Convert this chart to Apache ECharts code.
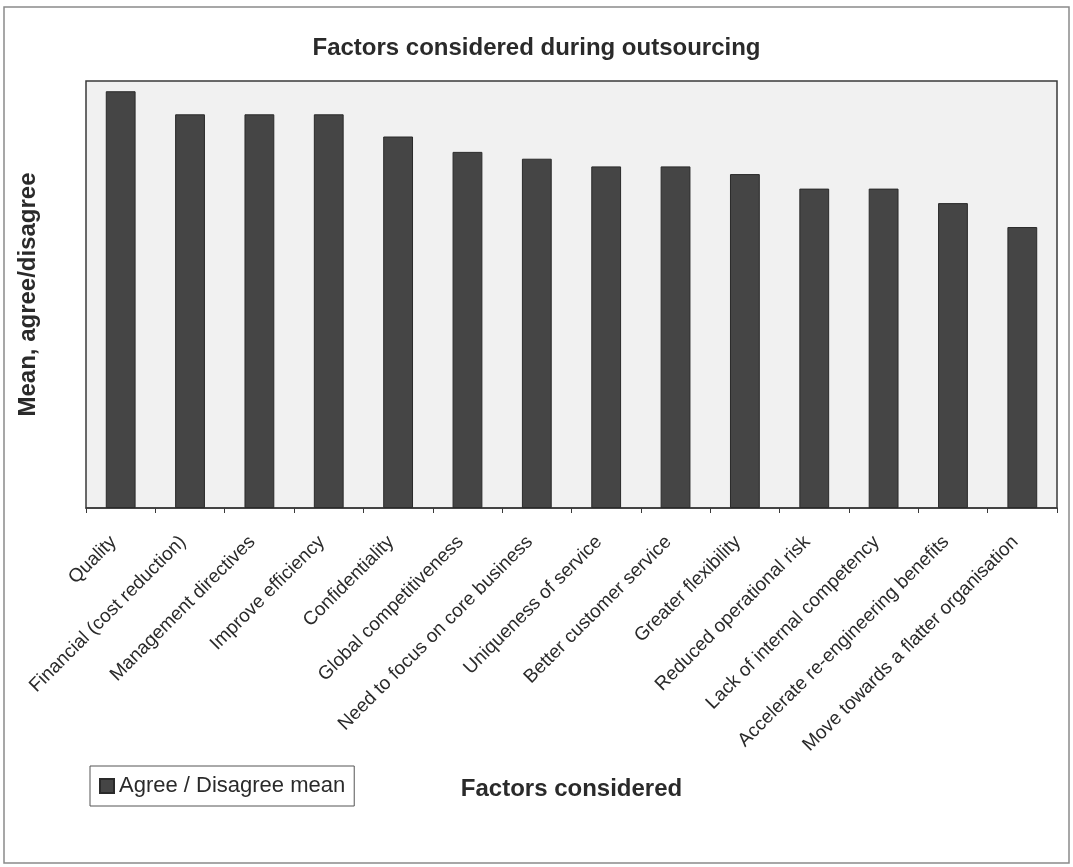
<!DOCTYPE html>
<html>
<head>
<meta charset="utf-8">
<script src="https://cdn.jsdelivr.net/npm/echarts@6/dist/echarts.min.js"></script>
<style>
  html, body { margin: 0; padding: 0; background: #fff; }
  #chart { width: 1073px; height: 867px; }
</style>
</head>
<body>
<div id="chart"></div>
<script>
const categories = [
  'Quality',
  'Financial (cost reduction)',
  'Management directives',
  'Improve efficiency',
  'Confidentiality',
  'Global competitiveness',
  'Need to focus on core business',
  'Uniqueness of service',
  'Better customer service',
  'Greater flexibility',
  'Reduced operational risk',
  'Lack of internal competency',
  'Accelerate re-engineering benefits',
  'Move towards a flatter organisation'
]
// (no y scale printed), assumed 0..5 range
const meanValues = [4.88, 4.61, 4.61, 4.61, 4.35, 4.17, 4.09, 4.00, 4.00, 3.91, 3.74, 3.74, 3.57, 3.29]

const chart = echarts.init(document.getElementById('chart'))
const font = '"Liberation Sans", Arial, sans-serif'

chart.setOption({
  animation: false,
  textStyle: { fontFamily: font },
  title: {
    text: 'Factors considered during outsourcing',
    left: 'center',
    top: 31,
    textStyle: { fontSize: 24, fontWeight: 'bold', color: '#2a2a2a', fontFamily: font }
  },
  graphic: [
    {
      type: 'rect',
      shape: { x: 4, y: 7, width: 1065, height: 856 },
      style: { fill: 'none', stroke: '#8a8a8a', lineWidth: 1.5 },
      z: -10
    }
  ],
  legend: {
    left: 90,
    top: 766,
    padding: [9, 9, 9, 9],
    borderColor: '#555',
    borderWidth: 1,
    icon: 'rect',
    itemWidth: 14,
    itemHeight: 14,
    itemGap: 6,
    textStyle: { fontSize: 22, color: '#2a2a2a', fontFamily: font },
    data: ['Agree / Disagree mean']
  },
  grid: {
    left: 86,
    right: 16,
    top: 81,
    bottom: 359,
    show: true,
    backgroundColor: '#f1f1f1',
    borderColor: '#3a3a3a',
    borderWidth: 1.5
  },
  xAxis: {
    type: 'category',
    data: categories,
    name: 'Factors considered',
    nameLocation: 'middle',
    nameGap: 269,
    nameTextStyle: { fontSize: 24, fontWeight: 'bold', color: '#2a2a2a' },
    axisLine: { lineStyle: { color: '#3a3a3a', width: 1.5 } },
    axisTick: { show: true, alignWithLabel: false, length: 5, lineStyle: { color: '#3a3a3a' } },
    axisLabel: {
      rotate: 45,
      interval: 0,
      fontSize: 19,
      color: '#2a2a2a',
      margin: 24,
      padding: [0, 10, 0, 0]
    }
  },
  yAxis: {
    type: 'value',
    min: 0,
    max: 5,
    name: 'Mean, agree/disagree',
    nameLocation: 'middle',
    nameGap: 46,
    nameTextStyle: { fontSize: 24, fontWeight: 'bold', color: '#2a2a2a' },
    axisLine: { show: false },
    axisTick: { show: false },
    axisLabel: { show: false },
    splitLine: { show: false }
  },
  series: [
    {
      name: 'Agree / Disagree mean',
      type: 'bar',
      data: meanValues,
      barWidth: '43%',
      itemStyle: { color: '#454545', borderColor: '#2a2a2a', borderWidth: 1 }
    }
  ]
})
</script>
</body>
</html>
